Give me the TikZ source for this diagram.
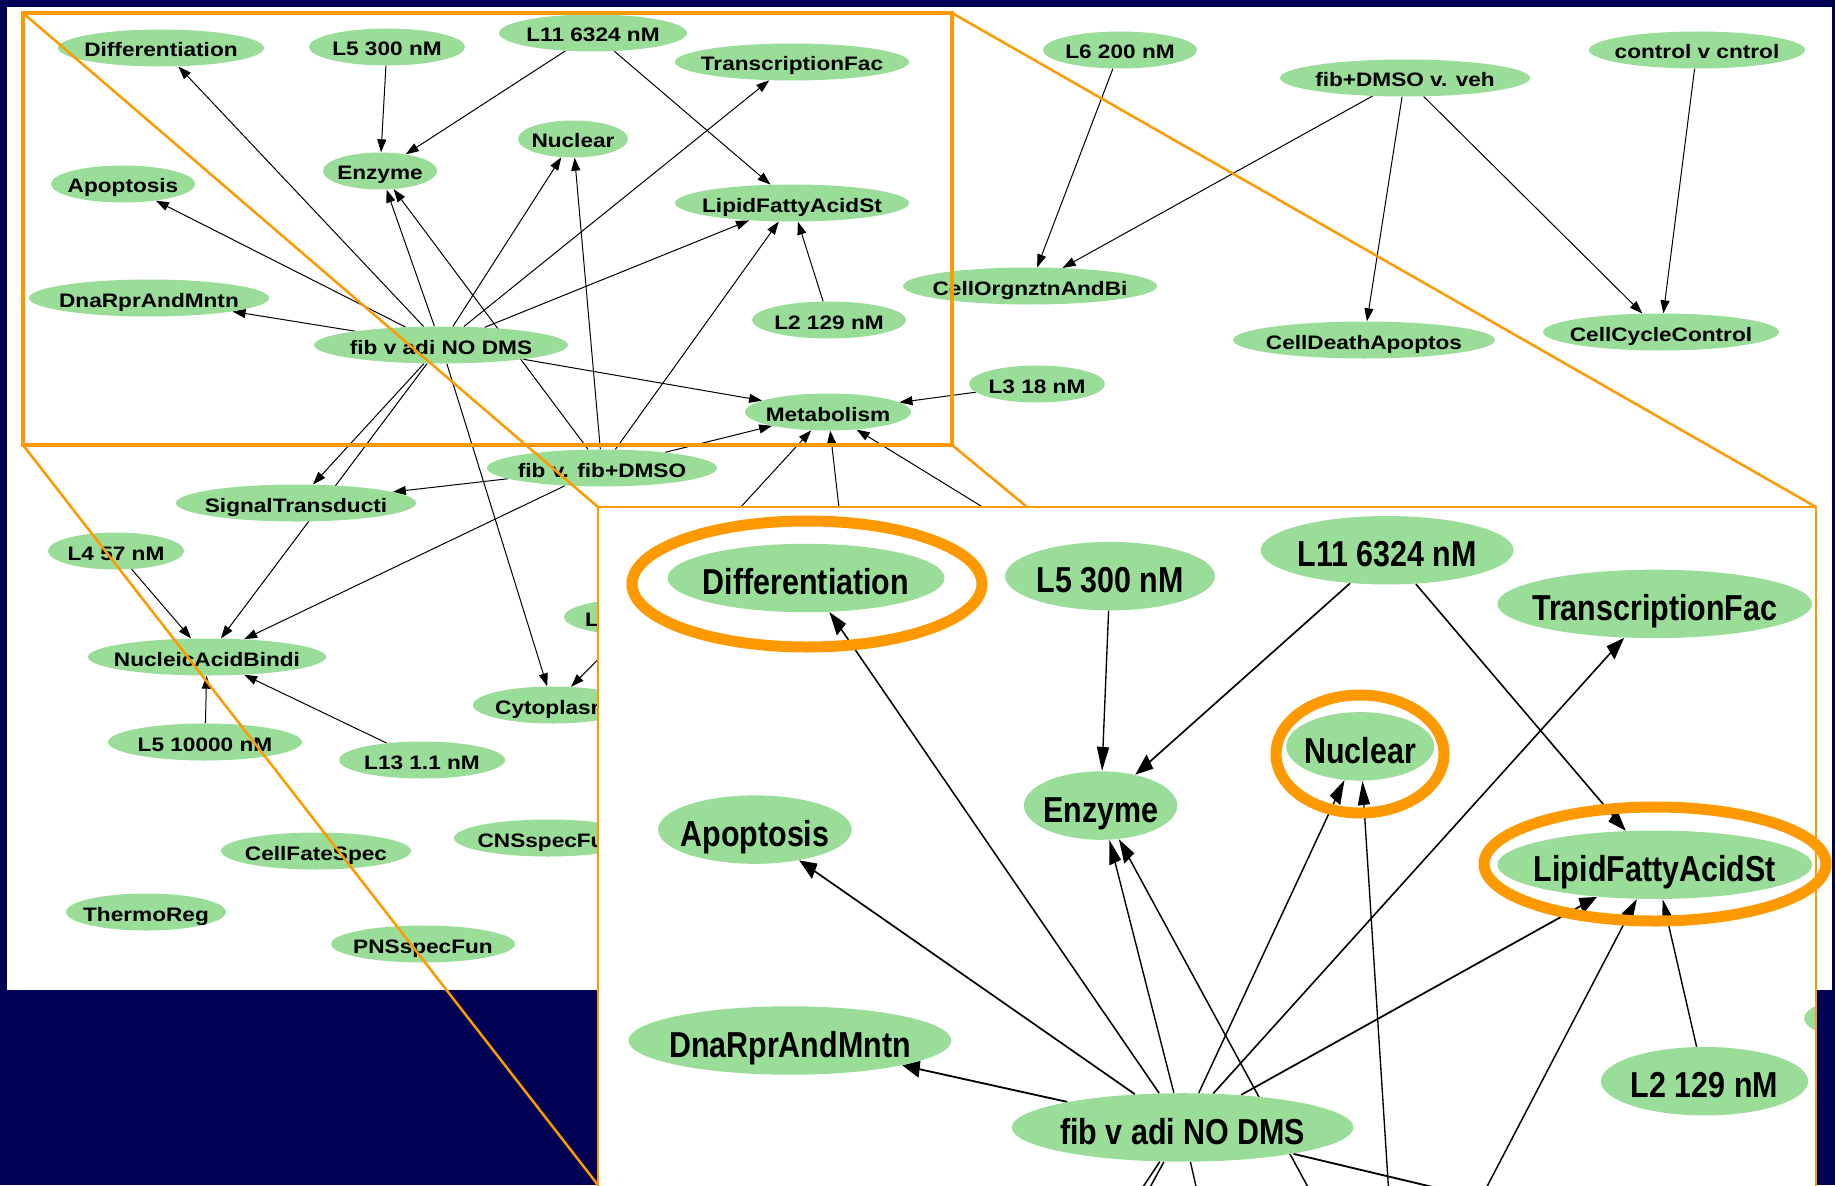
\documentclass[tikz,border=0pt]{standalone}
\usepackage{fontspec}
\newfontfamily\gfont{Liberation Sans}[FakeStretch=1.16]
\usetikzlibrary{arrows.meta,shapes.geometric}
\definecolor{gfill}{RGB}{153,221,153}
\definecolor{zorange}{RGB}{255,153,0}
\definecolor{navy}{RGB}{0,0,85}
\newcommand\lblshow[1]{\makebox[0pt]{#1}}
\newcommand\lblghost[1]{}
\tikzset{
  gn/.style={ellipse, inner sep=0pt, minimum height=37pt, text height=18pt, text depth=0pt,
    font=\gfont\bfseries\fontsize{19.5pt}{23pt}\selectfont},
  ghostnode/.style={},
  shownode/.style={fill=gfill},
  garrow/.style={-{Triangle[length=13pt,width=9pt]}, line width=1pt, black},
  zoomrect/.style={draw=zorange, line width=4pt},
  zoomline/.style={draw=zorange, line width=2.5pt},
  insetbox/.style={draw=zorange, line width=2pt},
  highlight/.style={draw=zorange, line width=11pt},
}
% #1: label macro for nodes in the zoomed region, #2: label macro for the other nodes, #3: node style
\newcommand\graphnodes[3]{%
  \node[gn,#3,minimum width=206pt] (diff) at (161,48) {#1{Differentiation}};
  \node[gn,#3,minimum width=156pt] (l5a) at (387,47) {#1{L5 300 nM}};
  \node[gn,#3,minimum width=188pt] (l11) at (593,33) {#1{L11 6324 nM}};
  \node[gn,#3,minimum width=234pt] (tf) at (792,62) {#1{TranscriptionFac}};
  \node[gn,#3,minimum width=114pt] (enz) at (380,171) {#1{Enzyme}};
  \node[gn,#3,minimum width=110pt] (nuc) at (573,139) {#1{Nuclear}};
  \node[gn,#3,minimum width=144pt] (apo) at (123,184) {#1{Apoptosis}};
  \node[gn,#3,minimum width=234pt] (lip) at (792,203) {#1{LipidFattyAcidSt}};
  \node[gn,#3,minimum width=240pt] (dna) at (149,298) {#1{DnaRprAndMntn}};
  \node[gn,#3,minimum width=154pt] (l2) at (829,320) {#1{L2 129 nM}};
  \node[gn,#3,minimum width=254pt] (fva) at (441,345) {#1{fib v adi NO DMS}};
  \node[gn,#3,minimum width=166pt] (met) at (828,412) {#2{Metabolism}};
  \node[gn,#3,minimum width=230pt] (ffd) at (602,468) {#2{fib v. fib+DMSO}};
  \node[gn,#3,minimum width=240pt] (sig) at (296,503) {#2{SignalTransducti}};
  \node[gn,#3,minimum width=136pt] (l4) at (116,551) {#2{L4 57 nM}};
  \node[gn,#3,minimum width=238pt] (nab) at (207,657) {#2{NucleicAcidBindi}};
  \node[gn,#3,minimum width=194pt] (l5b) at (205,742) {#2{L5 10000 nM}};
  \node[gn,#3,minimum width=166pt] (l13) at (422,760) {#2{L13 1.1 nM}};
  \node[gn,#3,minimum width=160pt] (cyt) at (553,705) {#2{Cytoplasm}};
  \node[gn,#3,minimum width=152pt] (lx) at (640,617) {#2{\rlap{\hspace*{-55pt}L}}};
  \node[gn,#3,minimum width=188pt] (cns) at (548,838) {#2{CNSspecFun}};
  \node[gn,#3,minimum width=190pt] (cfs) at (316,851) {#2{CellFateSpec}};
  \node[gn,#3,minimum width=160pt] (thr) at (146,912) {#2{ThermoReg}};
  \node[gn,#3,minimum width=184pt] (pns) at (423,944) {#2{PNSspecFun}};
  \node[gn,#3,minimum width=154pt] (l6) at (1120,50) {#2{L6 200 nM}};
  \node[gn,#3,minimum width=250pt] (fdv) at (1405,78) {#2{fib+DMSO v. veh}};
  \node[gn,#3,minimum width=216pt] (cvc) at (1697,50) {#2{control v cntrol}};
  \node[gn,#3,minimum width=254pt] (cob) at (1030,286) {#2{CellOrgnztnAndBi}};
  \node[gn,#3,minimum width=262pt] (cda) at (1364,340) {#2{CellDeathApoptos}};
  \node[gn,#3,minimum width=236pt] (ccc) at (1661,332) {#2{CellCycleControl}};
  \node[gn,#3,minimum width=136pt] (l3) at (1037,384) {#2{L3 18 nM}};
}
\newcommand\graphedges{%
  \coordinate (h1) at (845,560);
  \coordinate (h2) at (1020,530);
  \foreach \t in {diff,apo,dna,enz,nuc,tf,lip,met,sig,nab,cyt}{\draw[garrow] (fva) -- (\t);}
  \foreach \t in {enz,nuc,lip,met,sig,nab}{\draw[garrow] (ffd) -- (\t);}
  \draw[garrow] (l5a) -- (enz);
  \draw[garrow] (l11) -- (enz);
  \draw[garrow] (l11) -- (lip);
  \draw[garrow] (l2) -- (lip);
  \draw[garrow] (l3) -- (met);
  \draw[garrow] (l4) -- (nab);
  \draw[garrow] (l5b) -- (nab);
  \draw[garrow] (l13) -- (nab);
  \draw[garrow] (lx) -- (met);
  \draw[garrow] (lx) -- (cyt);
  \draw[garrow] (h1) -- (met);
  \draw[garrow] (h2) -- (met);
  \draw[garrow] (l6) -- (cob);
  \draw[garrow] (fdv) -- (cob);
  \draw[garrow] (fdv) -- (cda);
  \draw[garrow] (fdv) -- (ccc);
  \draw[garrow] (cvc) -- (ccc);
}
\begin{document}
\begin{tikzpicture}[x=1pt,y=-1pt]
\useasboundingbox (0,0) rectangle (1835,1185);
\fill[navy] (0,0) rectangle (1835,1185);
\fill[white] (7,7) rectangle (1832,990);
% main graph
\graphnodes{\lblghost}{\lblghost}{ghostnode}
\graphedges
\graphnodes{\lblshow}{\lblshow}{shownode}
% zoom frame and connector lines
\coordinate (rtl) at (23,13);
\coordinate (rtr) at (952,13);
\coordinate (rbl) at (23,445);
\coordinate (rbr) at (952,445);
\coordinate (itl) at (598,507);
\coordinate (itr) at (1816,507);
\coordinate (ibl) at (598,1185);
\coordinate (ibr) at (1816,1192);
\coordinate (iq) at (1027,507);
\draw[zoomrect] (rtl) rectangle (rbr);
\draw[zoomline] (rtl) -- (itl);
\draw[zoomline] (rbl) -- (ibl);
\draw[zoomline] (rtr) -- (itr);
\draw[zoomline] (rbr) -- (iq);
% magnified inset
\fill[white] (itl) rectangle (ibr);
\begin{scope}
  \clip (itl) rectangle (ibr);
  \begin{scope}[name prefix=z-, transform canvas={shift={(589.5,489.2)},xscale=1.345,yscale=1.85}]
    \graphnodes{\lblghost}{\lblghost}{ghostnode}
    \graphedges
    \graphnodes{\lblshow}{\lblghost}{shownode}
  \end{scope}
\end{scope}
\draw[insetbox] (itl) rectangle (ibr);
\draw[highlight] (807,584) ellipse [x radius=175, y radius=63];
\draw[highlight] (1360,754) ellipse [x radius=84, y radius=59];
\draw[highlight] (1655,864) ellipse [x radius=171, y radius=57];
\end{tikzpicture}
\end{document}
